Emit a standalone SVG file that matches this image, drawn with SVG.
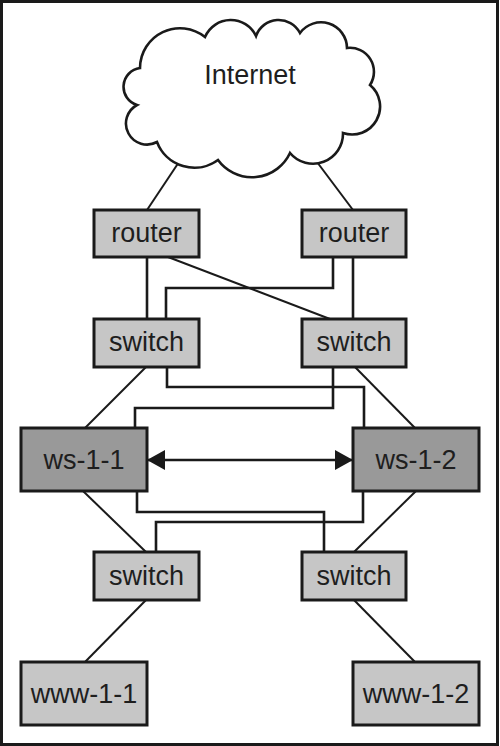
<svg xmlns="http://www.w3.org/2000/svg" width="500" height="746" viewBox="0 0 500 746">
<style>
.box{stroke:#1a1a1a;stroke-width:3}
.light{fill:#c6c6c6}
.dark{fill:#999999}
.lbl{font-family:"Liberation Sans",Arial,sans-serif;font-size:27px;fill:#1e1e1e;text-anchor:middle}
.c{fill:none;stroke:#1a1a1a;stroke-width:2.6;stroke-linejoin:miter}
.d{fill:none;stroke:#1a1a1a;stroke-width:2}
</style>
<defs>
<marker id="ah" viewBox="0 0 18 20" refX="18" refY="10" markerWidth="18" markerHeight="20" markerUnits="userSpaceOnUse" orient="auto-start-reverse">
<path d="M0,0 L18,10 L0,20 Z" fill="#1a1a1a"/>
</marker>
</defs>
<rect x="1.5" y="1.5" width="496" height="743" fill="#ffffff" stroke="#1a1a1a" stroke-width="3"/>
<g id="connectors">
<line class="d" x1="179" y1="162" x2="147" y2="210"/>
<line class="d" x1="317" y1="162" x2="353" y2="210"/>
<line class="c" x1="147" y1="257" x2="147" y2="319"/>
<line class="d" x1="168" y1="257" x2="330" y2="319"/>
<polyline class="c" points="333,257 333,288 166,288 166,319"/>
<line class="c" x1="353" y1="257" x2="353" y2="319"/>
<polyline class="c" points="167,367 167,387 364,387 364,428"/>
<polyline class="c" points="333,367 333,408 135,408 135,428"/>
<line class="d" x1="146" y1="367" x2="85" y2="428"/>
<line class="d" x1="355" y1="367" x2="415" y2="428"/>
<line class="c" x1="147" y1="460" x2="353" y2="460" marker-start="url(#ah)" marker-end="url(#ah)"/>
<polyline class="c" points="137,491 137,512 324,512 324,552"/>
<polyline class="c" points="363,491 363,522 156,522 156,552"/>
<line class="d" x1="83" y1="491" x2="146" y2="552"/>
<line class="d" x1="416" y1="491" x2="354" y2="552"/>
<line class="d" x1="146" y1="600" x2="85" y2="662"/>
<line class="d" x1="354" y1="600" x2="415" y2="662"/>
</g>
<g id="internet">
<path d="M140,68 A40,40 0 0 1 205,37 A28,28 0 0 1 256,36 A24,24 0 0 1 300,33 A26,26 0 0 1 347,48 A24,24 0 0 1 370,85 A28,28 0 0 1 343,133 A30,30 0 0 1 290,153 A42,42 0 0 1 218,160 A40,40 0 0 1 157,142 A21,21 0 0 1 137,105 A19,19 0 0 1 140,68 Z" fill="#ffffff" stroke="#1a1a1a" stroke-width="2.6"/>
<text class="lbl" x="250" y="84">Internet</text>
</g>
<g id="router-1">
<rect class="box light" x="94" y="210" width="105" height="47"/>
<text class="lbl" x="146.5" y="242">router</text>
</g>
<g id="router-2">
<rect class="box light" x="302" y="210" width="104" height="47"/>
<text class="lbl" x="354" y="242">router</text>
</g>
<g id="switch-1">
<rect class="box light" x="94" y="319" width="105" height="48"/>
<text class="lbl" x="146.5" y="351">switch</text>
</g>
<g id="switch-2">
<rect class="box light" x="302" y="319" width="104" height="48"/>
<text class="lbl" x="354" y="351">switch</text>
</g>
<g id="ws-1-1">
<rect class="box dark" x="21" y="428" width="126" height="63"/>
<text class="lbl" x="84" y="469">ws-1-1</text>
</g>
<g id="ws-1-2">
<rect class="box dark" x="353" y="428" width="126" height="63"/>
<text class="lbl" x="416" y="469">ws-1-2</text>
</g>
<g id="switch-3">
<rect class="box light" x="94" y="552" width="105" height="48"/>
<text class="lbl" x="146.5" y="585">switch</text>
</g>
<g id="switch-4">
<rect class="box light" x="302" y="552" width="104" height="48"/>
<text class="lbl" x="354" y="585">switch</text>
</g>
<g id="www-1-1">
<rect class="box light" x="21" y="662" width="126" height="63"/>
<text class="lbl" x="84" y="703">www-1-1</text>
</g>
<g id="www-1-2">
<rect class="box light" x="353" y="662" width="126" height="63"/>
<text class="lbl" x="416" y="703">www-1-2</text>
</g>
</svg>
